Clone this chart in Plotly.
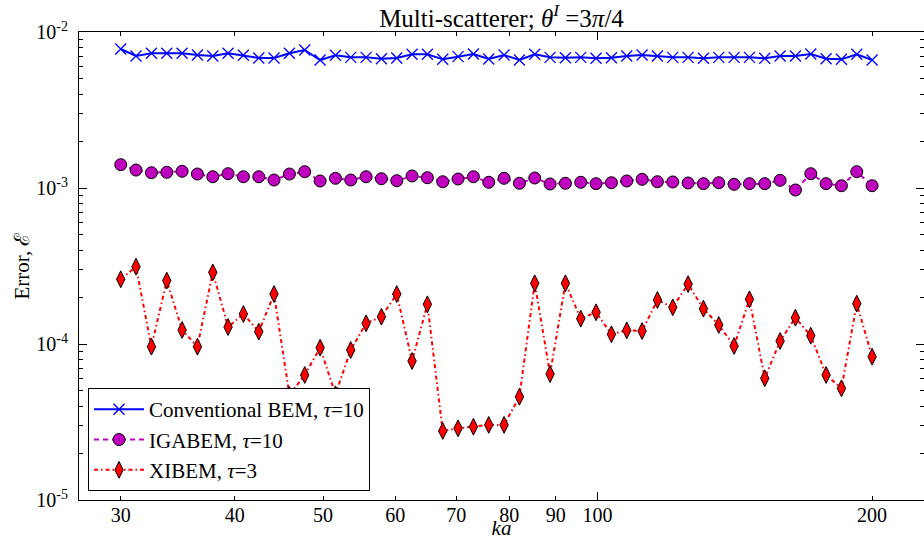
import math
import plotly.graph_objects as go

# ---- data ----
ka = [30.00, 31.18, 32.42, 33.70, 35.03, 36.41, 37.85, 39.34, 40.89, 42.51,
      44.18, 45.93, 47.74, 49.63, 51.59, 53.62, 55.74, 57.94, 60.23, 62.60,
      65.07, 67.64, 70.31, 73.09, 75.97, 78.97, 82.09, 85.33, 88.70, 92.20,
      95.84, 99.62, 103.56, 107.65, 111.90, 116.31, 120.90, 125.68, 130.64, 135.80,
      141.16, 146.73, 152.52, 158.54, 164.80, 171.31, 178.07, 185.10, 192.41, 200.00]

conv_bem = [7.78e-3, 7.02e-3, 7.30e-3, 7.30e-3, 7.30e-3, 7.12e-3, 7.02e-3, 7.30e-3, 7.09e-3, 6.81e-3,
            6.81e-3, 7.30e-3, 7.67e-3, 6.61e-3, 7.09e-3, 6.88e-3, 6.88e-3, 6.74e-3, 6.81e-3, 7.20e-3,
            7.20e-3, 6.68e-3, 6.95e-3, 7.23e-3, 6.71e-3, 7.12e-3, 6.61e-3, 7.20e-3, 6.88e-3, 6.84e-3,
            6.88e-3, 6.78e-3, 6.84e-3, 7.02e-3, 7.12e-3, 7.02e-3, 6.88e-3, 6.88e-3, 6.78e-3, 6.88e-3,
            6.88e-3, 6.88e-3, 6.78e-3, 7.02e-3, 7.02e-3, 7.23e-3, 6.74e-3, 6.68e-3, 7.20e-3, 6.61e-3]

igabem = [1.411e-3, 1.304e-3, 1.253e-3, 1.260e-3, 1.280e-3, 1.229e-3, 1.181e-3, 1.235e-3, 1.181e-3, 1.181e-3,
          1.125e-3, 1.229e-3, 1.272e-3, 1.109e-3, 1.154e-3, 1.125e-3, 1.181e-3, 1.147e-3, 1.114e-3, 1.194e-3,
          1.164e-3, 1.097e-3, 1.142e-3, 1.181e-3, 1.088e-3, 1.154e-3, 1.072e-3, 1.159e-3, 1.061e-3, 1.072e-3,
          1.088e-3, 1.066e-3, 1.081e-3, 1.109e-3, 1.137e-3, 1.097e-3, 1.093e-3, 1.077e-3, 1.066e-3, 1.081e-3,
          1.056e-3, 1.066e-3, 1.066e-3, 1.120e-3, 0.971e-3, 1.235e-3, 1.066e-3, 1.034e-3, 1.272e-3, 1.034e-3]

xibem = [2.60e-4, 3.13e-4, 9.61e-5, 2.55e-4, 1.23e-4, 9.61e-5, 2.88e-4, 1.285e-4, 1.557e-4, 1.199e-4,
         2.09e-4, 4.71e-5, 6.33e-5, 9.47e-5, 4.76e-5, 9.15e-5, 1.357e-4, 1.496e-4, 2.09e-4, 7.78e-5,
         1.797e-4, 2.77e-5, 2.88e-5, 2.95e-5, 3.03e-5, 3.03e-5, 4.59e-5, 2.45e-4, 6.42e-5, 2.45e-4,
         1.453e-4, 1.597e-4, 1.154e-4, 1.224e-4, 1.211e-4, 1.915e-4, 1.719e-4, 2.42e-4, 1.684e-4, 1.324e-4,
         9.71e-5, 1.934e-4, 6.03e-5, 1.045e-4, 1.474e-4, 1.130e-4, 6.33e-5, 5.20e-5, 1.814e-4, 8.29e-5]

x_ticks = [30, 40, 50, 60, 70, 80, 90, 100, 200]
x_ticktext = ["30", "40", "50", "60", "70", "80", "90", "100", "200"]
y_ticks = [1e-5, 1e-4, 1e-3, 1e-2]
y_ticktext = ["10<sup>-5</sup>", "10<sup>-4</sup>", "10<sup>-3</sup>", "10<sup>-2</sup>"]

FONT = "Liberation Serif"
W, H = 924, 540

fig = go.Figure()
fig.add_trace(go.Scatter(
    x=ka, y=conv_bem, mode="lines+markers",
    name="Conventional BEM, <i>τ</i>=10",
    line=dict(color="#0000ff", width=2),
    marker=dict(symbol="x-thin", size=11, line=dict(color="#0000ff", width=1.3)),
))
fig.add_trace(go.Scatter(
    x=ka, y=igabem, mode="lines+markers",
    name="IGABEM, <i>τ</i>=10",
    line=dict(color="#bf00bf", width=2, dash="5px,4px"),
    marker=dict(symbol="circle", size=12, color="#bf00bf", line=dict(color="black", width=1)),
))
fig.add_trace(go.Scatter(
    x=ka, y=xibem, mode="lines+markers",
    name="XIBEM, <i>τ</i>=3",
    line=dict(color="#ff0000", width=2, dash="4px,3px,1.5px,3px"),
    marker=dict(symbol="diamond-tall", size=12, color="#ff0000", line=dict(color="black", width=1)),
))

y_minor = [m * 10.0 ** e for e in range(-5, -2) for m in range(2, 10)]

fig.update_layout(
    width=W, height=H,
    margin=dict(l=79, r=0, t=32, b=40, autoexpand=False),
    paper_bgcolor="white", plot_bgcolor="white",
    font=dict(family=FONT, size=20, color="black"),
    title=dict(text="Multi-scatterer; <i>θ</i><sup><i>I</i></sup> =3<i>π</i>/4",
               x=0.5, xref="paper", xanchor="center",
               y=1 - 18 / H, yref="container", yanchor="middle",
               font=dict(family=FONT, size=25)),
    legend=dict(x=0.0107, y=0.019, xanchor="left", yanchor="bottom",
                bordercolor="black", borderwidth=1, bgcolor="white",
                font=dict(family=FONT, size=21), tracegroupgap=0,
                itemwidth=50),
    showlegend=True,
)
fig.update_xaxes(
    type="log", range=[math.log10(27), math.log10(228)], automargin=False,
    tickmode="array", tickvals=x_ticks, ticktext=x_ticktext,
    ticks="inside", ticklen=4, tickwidth=1, tickcolor="black",
    showline=True, linecolor="black", linewidth=1, mirror="ticks",
    showgrid=False, zeroline=False, ticklabelstandoff=-3,
    minor=dict(tickmode="array", tickvals=[100], ticks="inside", ticklen=8,
               tickwidth=1, tickcolor="black", showgrid=False),
    title=dict(text="<i>ka</i>", standoff=2, font=dict(family=FONT, size=21)),
    tickfont=dict(family=FONT, size=20),
)
fig.update_yaxes(
    type="log", range=[-5, -2], automargin=False,
    tickmode="array", tickvals=y_ticks, ticktext=y_ticktext,
    ticks="inside", ticklen=8, tickwidth=1, tickcolor="black",
    showline=True, linecolor="black", linewidth=1, mirror="ticks",
    showgrid=False, zeroline=False, ticklabelstandoff=6,
    minor=dict(tickmode="array", tickvals=y_minor, ticks="inside", ticklen=4,
               tickwidth=1, tickcolor="black", showgrid=False),
    title=dict(text="Error, ℰ", standoff=0, font=dict(family=FONT, size=21)),
    tickfont=dict(family=FONT, size=20),
)

fig.write_html("out.html", config={"displayModeBar": False},
               post_script="document.body.style.margin='0';document.body.style.overflow='hidden';")
